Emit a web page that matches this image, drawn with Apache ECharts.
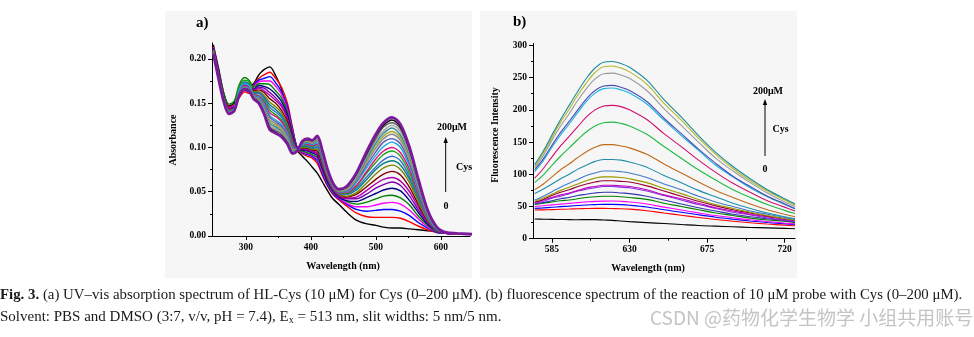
<!DOCTYPE html>
<html><head><meta charset="utf-8">
<script src="https://cdn.jsdelivr.net/npm/echarts@6/dist/echarts.min.js"></script>
<style>html,body{margin:0;padding:0;background:#fff}#c{width:974px;height:337px}</style>
</head><body><div id="c"></div>
<script>
// ---------- (a) UV-vis absorption of HL-Cys with Cys 0-200 uM ----------
const wlA = [250,258,266,274,282,290,298,305,312,320,328,337,346,355,364,372,379,387,395,402,410,418,426,434,443,455,470,485,500,512,525,538,552,566,580,594,608,625,648];
const absCys0  = [.216,.190,.162,.147,.150,.163,.170,.170,.172,.182,.188,.191,.181,.166,.140,.114,.097,.090,.084,.078,.071,.061,.051,.042,.036,.027,.018,.014,.012,.010,.009,.009,.008,.007,.006,.005,.004,.003,.002];
const absCys1  = [.214,.186,.160,.146,.148,.156,.163,.161,.171,.178,.182,.185,.178,.168,.150,.122,.100,.093,.090,.088,.082,.068,.056,.047,.041,.034,.026,.022,.021,.021,.021,.020,.016,.011,.007,.004,.003,.002,.002];
const absCys2  = [.213,.185,.159,.145,.147,.158,.165,.163,.170,.176,.178,.180,.173,.163,.146,.120,.100,.094,.092,.090,.085,.070,.057,.048,.042,.036,.030,.028,.029,.030,.030,.028,.023,.015,.009,.004,.003,.002,.002];
const absCys3  = [.213,.185,.159,.145,.147,.160,.167,.165,.169,.174,.175,.175,.169,.160,.143,.118,.099,.095,.093,.091,.087,.072,.059,.049,.043,.037,.033,.033,.035,.037,.038,.036,.029,.019,.010,.005,.003,.002,.002];
const absCys4  = [.212,.185,.161,.149,.152,.171,.179,.176,.168,.172,.172,.171,.164,.156,.140,.116,.099,.096,.094,.092,.089,.074,.060,.050,.044,.039,.036,.038,.042,.045,.046,.043,.035,.022,.012,.005,.003,.002,.002];
const absCys5  = [.212,.184,.158,.144,.146,.163,.170,.168,.166,.170,.169,.166,.160,.152,.137,.114,.099,.097,.096,.094,.091,.076,.061,.051,.044,.040,.039,.043,.048,.052,.054,.051,.040,.026,.013,.006,.003,.002,.002];
const absCys6  = [.211,.183,.157,.143,.146,.165,.172,.170,.165,.168,.167,.162,.156,.148,.134,.112,.099,.098,.097,.095,.093,.078,.063,.052,.045,.042,.042,.047,.054,.058,.061,.057,.045,.029,.015,.006,.003,.002,.002];
const absCys7  = [.211,.183,.157,.143,.145,.164,.171,.169,.165,.167,.164,.159,.153,.146,.132,.110,.098,.099,.098,.096,.094,.079,.064,.052,.046,.043,.044,.051,.059,.064,.066,.062,.050,.032,.016,.006,.003,.002,.002];
const absCys8  = [.210,.182,.156,.142,.145,.166,.173,.171,.164,.165,.162,.155,.150,.142,.129,.109,.098,.099,.099,.097,.096,.081,.065,.053,.047,.044,.047,.055,.064,.070,.073,.069,.055,.035,.017,.007,.004,.002,.002];
const absCys9  = [.210,.182,.156,.142,.144,.165,.172,.170,.163,.163,.159,.151,.146,.139,.126,.107,.098,.100,.100,.098,.098,.083,.066,.054,.047,.045,.049,.059,.070,.077,.080,.075,.060,.038,.018,.007,.004,.002,.002];
const absCys10 = [.209,.181,.155,.141,.144,.167,.174,.172,.162,.162,.157,.148,.143,.136,.124,.106,.098,.101,.101,.099,.100,.084,.067,.054,.048,.047,.052,.063,.075,.082,.085,.080,.064,.041,.020,.007,.004,.003,.002];
const absCys11 = [.209,.181,.155,.141,.144,.166,.173,.171,.161,.161,.155,.145,.140,.134,.122,.104,.098,.102,.102,.100,.101,.085,.068,.055,.048,.047,.054,.066,.078,.086,.090,.085,.067,.043,.020,.008,.004,.003,.002];
const absCys12 = [.209,.181,.155,.141,.143,.169,.176,.174,.160,.159,.153,.142,.137,.131,.120,.103,.097,.102,.103,.101,.103,.087,.068,.056,.049,.048,.056,.070,.083,.092,.096,.090,.071,.045,.022,.008,.004,.003,.002];
const absCys13 = [.208,.180,.154,.140,.143,.163,.170,.168,.160,.158,.151,.139,.135,.129,.118,.102,.097,.103,.104,.102,.104,.088,.069,.056,.049,.049,.057,.072,.087,.096,.100,.094,.075,.047,.022,.008,.004,.003,.002];
const absCys14 = [.208,.180,.154,.140,.143,.165,.172,.170,.159,.157,.149,.136,.131,.126,.116,.100,.097,.103,.105,.103,.105,.089,.070,.057,.050,.050,.060,.076,.091,.101,.106,.100,.079,.050,.023,.008,.004,.003,.002];
const absCys15 = [.208,.180,.154,.140,.142,.162,.169,.167,.158,.156,.147,.134,.129,.124,.114,.099,.097,.104,.106,.104,.107,.090,.071,.057,.051,.051,.062,.079,.095,.106,.110,.104,.082,.052,.024,.009,.004,.003,.002];
const absCys16 = [.207,.179,.153,.139,.142,.161,.168,.166,.158,.155,.145,.131,.127,.122,.112,.098,.097,.105,.107,.105,.108,.091,.072,.058,.051,.052,.063,.082,.099,.110,.115,.108,.086,.054,.025,.009,.004,.003,.002];
const absCys17 = [.207,.179,.153,.139,.142,.160,.167,.165,.157,.154,.144,.129,.125,.120,.110,.097,.097,.105,.107,.105,.109,.092,.072,.058,.051,.053,.065,.084,.102,.113,.118,.111,.088,.056,.026,.009,.004,.003,.002];
const absCys18 = [.207,.179,.153,.139,.142,.160,.167,.165,.157,.153,.143,.127,.123,.118,.109,.096,.096,.106,.108,.106,.110,.093,.073,.059,.052,.054,.066,.086,.105,.116,.122,.114,.091,.057,.027,.009,.004,.003,.002];
const absCys19 = [.207,.179,.153,.139,.142,.159,.166,.164,.156,.152,.142,.125,.121,.117,.108,.095,.096,.106,.108,.106,.111,.094,.074,.059,.052,.054,.067,.088,.108,.119,.125,.118,.093,.059,.027,.010,.004,.003,.002];
const absCys20 = [.206,.178,.152,.138,.141,.159,.166,.164,.156,.151,.140,.123,.119,.115,.106,.094,.096,.106,.109,.107,.112,.095,.074,.059,.052,.055,.069,.090,.110,.123,.128,.121,.096,.060,.028,.010,.004,.003,.002];
const absCys21 = [.206,.178,.152,.138,.141,.159,.166,.164,.155,.151,.139,.122,.117,.113,.105,.094,.096,.107,.109,.108,.112,.095,.075,.060,.053,.055,.070,.092,.113,.125,.131,.123,.098,.062,.028,.010,.004,.003,.002];
const absCys22 = [.206,.178,.152,.138,.141,.159,.166,.164,.155,.150,.138,.120,.116,.112,.104,.093,.096,.107,.110,.108,.113,.096,.075,.060,.053,.056,.071,.094,.115,.128,.134,.126,.100,.063,.029,.010,.004,.003,.002];
const absTicks = [0, 0.05, 0.10, 0.15, 0.20];
const wlTicksA = [300, 400, 500, 600];

// ---------- (b) fluorescence of 10 uM probe with Cys 0-200 uM ----------
const wlB = [575,580,585,590,595,600,605,610,615,620,625,630,640,650,660,670,680,690,700,710,720,726];
const flCys0  = [30.5,30.2,30,29.8,29.6,29.5,29.6,29.6,29,28.5,27.5,26.5,25,23.5,22,20.5,19.5,18.5,17.5,16.8,16,15.5];
const flCys1  = [44.5,44.8,45.2,45.6,46,46.5,46.8,47,47,46.8,46.6,45.9,43.4,39.8,36.4,33,29.8,27.1,24.8,22.7,21,20];
const flCys2  = [47,47.8,48.8,49.8,50.6,51.5,52.3,52.9,53.3,53.3,52.9,52,49.2,44.9,41.1,37.1,33.4,30.3,27.5,25.1,23.1,22];
const flCys3  = [50,51.1,52.5,53.7,54.9,56,57.1,58,58.4,58.5,58,57,53.8,49,44.6,40.1,35.9,32.4,29.3,26.6,24.3,23];
const flCys4  = [53,55,57,59,60,62,64,65,66,66,65,64,61,55,50,45,40,36,32,29,27,25];
const flCys5  = [54,56,59,62,64,67,69,71,72,72,71,70,66,60,54,48,43,38,34,31,28,26];
const flCys6  = [55,58,63,66,70,74,77,79,81,81,80,79,74,67,60,53,47,41,37,32,29,27];
const flCys7  = [56,60,64,68,71,75,79,81,83,83,82,81,76,68,62,55,48,43,38,34,30,28];
const flCys8  = [57,61,67,72,76,81,85,88,90,90,89,88,82,74,66,58,51,45,40,35,31,29];
const flCys9  = [58,63,69,75,80,85,90,94,96,96,95,93,87,78,70,61,53,47,41,36,31,29];
const flCys10 = [60,66,73,80,86,92,98,102,105,105,104,102,95,85,76,66,57,50,43,38,33,30];
const flCys11 = [70,77,85,93,100,108,114,120,123,123,122,119,111,98,87,75,65,55,47,40,34,31];
const flCys12 = [76,85,96,107,116,126,135,142,146,146,144,141,131,116,102,88,75,64,54,45,38,34];
const flCys13 = [87,99,114,128,141,154,166,175,180,181,179,175,162,143,125,107,91,76,64,53,44,39];
const flCys14 = [94,109,127,144,159,174,189,200,206,207,205,200,185,163,143,122,103,86,72,59,49,43];
const flCys15 = [104,121,142,161,178,196,213,226,233,234,231,226,209,184,160,137,114,96,79,65,53,46];
const flCys16 = [107,124,145,165,182,200,217,230,237,238,235,230,213,187,163,139,117,97,81,66,54,47];
const flCys17 = [110,129,153,175,194,215,233,248,256,257,254,249,230,202,176,150,125,105,87,71,57,50];
const flCys18 = [112,133,157,181,201,223,242,258,267,268,265,259,240,210,184,156,131,109,90,74,60,52];
const flCys19 = [115,136,161,185,207,229,249,265,274,275,272,266,246,216,189,160,134,112,93,76,62,54];
const flTicks = [0, 50, 100, 150, 200, 250, 300];
const wlTicksB = [585, 630, 675, 720];

const absSeries = [absCys0,absCys1,absCys2,absCys3,absCys4,absCys5,absCys6,absCys7,absCys8,absCys9,absCys10,absCys11,absCys12,absCys13,absCys14,absCys15,absCys16,absCys17,absCys18,absCys19,absCys20,absCys21,absCys22];
const flSeries = [flCys0,flCys1,flCys2,flCys3,flCys4,flCys5,flCys6,flCys7,flCys8,flCys9,flCys10,flCys11,flCys12,flCys13,flCys14,flCys15,flCys16,flCys17,flCys18,flCys19];

const absColors = ['#000000','#ff0000','#0000ff','#ff00ff','#008000','#000080','#7b00b0','#b000b0','#800000','#808000','#007f7f','#3a6fd0','#1ea01e','#e0107a','#1aa8e0','#5a5ab8','#8a8a8a','#a8a830','#2a8aa0','#a0a0a0','#606060','#000000','#7a1a9a'];
const flColors = ['#000000','#ff0000','#0000ff','#ff00ff','#008000','#3333aa','#8a2be2','#c000c0','#990033','#999900','#3d7cc8','#1f8fa8','#c06a1a','#22bb44','#d0106e','#19b4e0','#4b4bb4','#9a9a9a','#b5b52a','#1a8a9a'];

const SERIF = '"Liberation Serif", "Times New Roman", serif';
const tickFont = { fontFamily: SERIF, fontWeight: 'bold', fontSize: 9.5, color: '#000' };

function majorAxis(grid, min, max, ticks, fmt, margin) {
  return {
    gridIndex: grid, type: 'value', min: min, max: max,
    axisLine: { show: true, onZero: false, lineStyle: { color: '#000', width: 1 } },
    axisTick: { show: true, length: 4, customValues: ticks, lineStyle: { color: '#000', width: 1 } },
    axisLabel: Object.assign({ show: true, customValues: ticks, margin: margin, formatter: fmt }, tickFont),
    splitLine: { show: false }
  };
}
function minorAxis(grid, min, max, ticks, pos) {
  return {
    gridIndex: grid, type: 'value', min: min, max: max, position: pos,
    axisLine: { show: false },
    axisTick: { show: true, length: 2, customValues: ticks, lineStyle: { color: '#000', width: 1 } },
    axisLabel: { show: false },
    splitLine: { show: false }
  };
}

const series = [];
absSeries.forEach((vals, i) => {
  series.push({
    type: 'line', xAxisIndex: 0, yAxisIndex: 0, showSymbol: false, smooth: 0.3,
    data: wlA.map((w, j) => [w, vals[j]]),
    lineStyle: { color: absColors[i], width: i === absSeries.length - 1 ? 2.8 : 1.4 },
    silent: true
  });
});
flSeries.forEach((vals, i) => {
  series.push({
    type: 'line', xAxisIndex: 2, yAxisIndex: 2, showSymbol: false, smooth: 0.35,
    data: wlB.map((w, j) => [w, vals[j]]),
    lineStyle: { color: flColors[i], width: 1.1 },
    silent: true
  });
});

function label(text, x, y, opts) {
  return Object.assign({
    type: 'text', x: x, y: y, silent: true,
    style: Object.assign({ text: text, x: 0, y: 0, fill: '#000',
      font: 'bold 10px ' + SERIF, textAlign: 'center', align: 'center',
      textVerticalAlign: 'middle', verticalAlign: 'middle' }, (opts && opts.style) || {})
  }, (opts && opts.el) || {});
}
function arrow(x, y0, y1) {
  return [
    { type: 'line', silent: true, shape: { x1: x, y1: y0, x2: x, y2: y1 + 4 }, style: { stroke: '#000', lineWidth: 1 } },
    { type: 'polygon', silent: true, shape: { points: [[x, y1], [x - 2.2, y1 + 6], [x + 2.2, y1 + 6]] }, style: { fill: '#000' } }
  ];
}

const graphics = [
  { type: 'rect', silent: true, z: -10, shape: { x: 165, y: 11, width: 307, height: 267 }, style: { fill: '#f6f6f6' } },
  { type: 'rect', silent: true, z: -10, shape: { x: 480, y: 11, width: 317, height: 267 }, style: { fill: '#f6f6f6' } },
  label('a)', 196, 23, { style: { font: 'bold 15px ' + SERIF, textAlign: 'left', align: 'left' } }),
  label('b)', 513, 22, { style: { font: 'bold 15px ' + SERIF, textAlign: 'left', align: 'left' } }),
  label('Absorbance', 173, 140, { el: { rotation: Math.PI / 2 } }),
  label('Wavelength (nm)', 343, 266),
  label('Fluorescence Intensity', 495, 135, { el: { rotation: Math.PI / 2 } }),
  label('Wavelength (nm)', 648, 268),
  label('200\u03bcM', 452, 127),
  label('Cys', 464, 167),
  label('0', 446, 206),
  label('200\u03bcM', 768, 91),
  label('Cys', 780.5, 129),
  label('0', 765, 169.5),
  ...arrow(445.7, 192, 137),
  ...arrow(765, 156, 99),
  { type: 'text', silent: true, x: 0, y: 295, style: {
      text: '{b|Fig. 3.} (a) UV\u2013vis absorption spectrum of HL-Cys (10 \u03bcM) for Cys (0\u2013200 \u03bcM). (b) fluorescence spectrum of the reaction of 10 \u03bcM probe with Cys (0\u2013200 \u03bcM).',
      font: '14.85px ' + SERIF, fill: '#1a1a1a', textVerticalAlign: 'middle', verticalAlign: 'middle',
      rich: { b: { fontWeight: 'bold', fontFamily: SERIF, fontSize: 14.85 } } } },
  { type: 'text', silent: true, x: 0, y: 317, style: {
      text: 'Solvent: PBS and DMSO (3:7, v/v, pH = 7.4), E{s|x} = 513 nm, slit widths: 5 nm/5 nm.',
      font: '15px ' + SERIF, fill: '#1a1a1a', textVerticalAlign: 'middle', verticalAlign: 'middle',
      rich: { s: { fontSize: 10, fontFamily: SERIF, padding: [7, 0, 0, 0] } } } },
  { type: 'text', silent: true, x: 650, y: 318, style: {
      text: 'CSDN @\u836f\u7269\u5316\u5b66\u751f\u7269\u5b66 \u5c0f\u7ec4\u5171\u7528\u8d26\u53f7',
      font: '19px "Noto Sans CJK SC", "Noto Sans", sans-serif', fill: '#c4c4c4',
      textVerticalAlign: 'middle', verticalAlign: 'middle' } }
];

const chart = echarts.init(document.getElementById('c'), null, { renderer: 'canvas' });
chart.setOption({
  backgroundColor: '#ffffff',
  animation: false,
  grid: [
    { left: 212, top: 43, width: 258, height: 193 },
    { left: 533, top: 43.5, width: 262, height: 195.2 }
  ],
  xAxis: [
    majorAxis(0, 248, 645, wlTicksA, v => String(v), 7),
    minorAxis(0, 248, 645, [350, 450, 550], 'bottom'),
    majorAxis(1, 574, 726, wlTicksB, v => String(v), 6),
    minorAxis(1, 574, 726, [607.5, 652.5, 697.5], 'bottom')
  ],
  yAxis: [
    majorAxis(0, 0, 0.218, absTicks, v => v.toFixed(2), 6),
    minorAxis(0, 0, 0.218, [0.025, 0.075, 0.125, 0.175], 'left'),
    majorAxis(1, 0, 303, flTicks, v => String(v), 6),
    minorAxis(1, 0, 303, [25, 75, 125, 175, 225, 275], 'left')
  ],
  series: series,
  graphic: graphics
});
</script>
</body></html>
